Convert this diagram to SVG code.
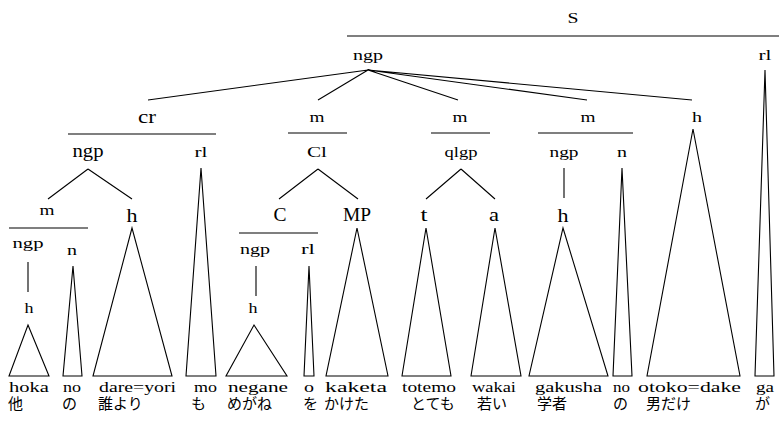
<svg xmlns="http://www.w3.org/2000/svg" width="783" height="423" viewBox="0 0 783 423">
<style>
.l{font-family:"Liberation Serif","Times New Roman",serif;font-size:15px;text-anchor:middle;fill:#000}
.b{font-size:18px}
.w{font-family:"Liberation Serif","Times New Roman",serif;font-size:15px;fill:#000}
.j{font-family:"Noto Sans CJK JP",sans-serif;font-size:15px;fill:#000}
.ln{stroke:#000;stroke-width:1.1;fill:none;stroke-linejoin:miter}
</style>
<rect width="783" height="423" fill="#fff"/>

<!-- branch lines, bars and roofs -->
<g id="connectors" class="ln">
  <path d="M347 36H779M68 134H216M288 133H347M431 133H490M538 133H633M9 228H88M239 233H318"/>
  <path d="M368 70L148 100M368 70L318 100M368 70L458 100M368 70L587 100M368 70L692 100"/>
  <path d="M88 169L48 199M88 169L132 199M318 169L279 199M318 169L358 199M461 169L426 199M461 169L495 199"/>
  <path d="M28 262V292M256 266V296M564 168V198"/>
  <polygon points="765,70 774,376 755,376"/>
  <polygon points="201,168 216,376 186,376"/>
  <polygon points="132,228 172,376 93,376"/>
  <polygon points="73,266 82,376 63,376"/>
  <polygon points="28,325 49,376 9,376"/>
  <polygon points="254,325 287,376 226,376"/>
  <polygon points="309,266 314,376 304,376"/>
  <polygon points="357,228 388,376 326,376"/>
  <polygon points="426,228 451,376 402,376"/>
  <polygon points="495,228 521,376 471,376"/>
  <polygon points="563,228 608,376 529,376"/>
  <polygon points="622,168 632,376 613,376"/>
  <polygon points="693,129 740,376 647,376"/>
</g>

<!-- category labels -->
<g id="n-S"><text class="l" x="573" y="23" textLength="11" lengthAdjust="spacingAndGlyphs">S</text></g>
<g id="n-ngp-top"><text class="l" x="368" y="60" textLength="30" lengthAdjust="spacingAndGlyphs">ngp</text></g>
<g id="n-rl-top"><text class="l" x="765" y="60" textLength="13" lengthAdjust="spacingAndGlyphs">rl</text></g>
<g id="n-cr"><text class="l b" x="147" y="123" textLength="18" lengthAdjust="spacingAndGlyphs">cr</text></g>
<g id="n-ngp-cr"><text class="l b" x="88" y="157" textLength="31" lengthAdjust="spacingAndGlyphs">ngp</text></g>
<g id="n-rl-cr"><text class="l" x="201" y="157" textLength="13" lengthAdjust="spacingAndGlyphs">rl</text></g>
<g id="n-m-1"><text class="l" x="47" y="215" textLength="15" lengthAdjust="spacingAndGlyphs">m</text></g>
<g id="n-h-1"><text class="l b" x="132" y="222" textLength="11" lengthAdjust="spacingAndGlyphs">h</text></g>
<g id="n-ngp-1"><text class="l" x="28" y="248" textLength="31" lengthAdjust="spacingAndGlyphs">ngp</text></g>
<g id="n-n-1"><text class="l" x="72" y="255" textLength="10" lengthAdjust="spacingAndGlyphs">n</text></g>
<g id="n-h-2"><text class="l" x="29" y="313" textLength="9" lengthAdjust="spacingAndGlyphs">h</text></g>
<g id="n-m-2"><text class="l" x="317" y="122" textLength="15" lengthAdjust="spacingAndGlyphs">m</text></g>
<g id="n-Cl"><text class="l" x="317" y="157" textLength="20" lengthAdjust="spacingAndGlyphs">Cl</text></g>
<g id="n-C"><text class="l b" x="280" y="221" textLength="13" lengthAdjust="spacingAndGlyphs">C</text></g>
<g id="n-MP"><text class="l b" x="357" y="221" textLength="28" lengthAdjust="spacingAndGlyphs">MP</text></g>
<g id="n-ngp-2"><text class="l" x="255" y="254" textLength="30" lengthAdjust="spacingAndGlyphs">ngp</text></g>
<g id="n-rl-2"><text class="l" x="308" y="254" textLength="14" lengthAdjust="spacingAndGlyphs">rl</text></g>
<g id="n-h-3"><text class="l" x="253" y="313" textLength="9" lengthAdjust="spacingAndGlyphs">h</text></g>
<g id="n-m-3"><text class="l" x="460" y="122" textLength="15" lengthAdjust="spacingAndGlyphs">m</text></g>
<g id="n-qlgp"><text class="l" x="461" y="157" textLength="33" lengthAdjust="spacingAndGlyphs">qlgp</text></g>
<g id="n-t"><text class="l b" x="424" y="221" textLength="7" lengthAdjust="spacingAndGlyphs">t</text></g>
<g id="n-a"><text class="l b" x="494" y="221" textLength="10" lengthAdjust="spacingAndGlyphs">a</text></g>
<g id="n-m-4"><text class="l" x="588" y="122" textLength="15" lengthAdjust="spacingAndGlyphs">m</text></g>
<g id="n-ngp-3"><text class="l" x="564" y="157" textLength="29" lengthAdjust="spacingAndGlyphs">ngp</text></g>
<g id="n-n-2"><text class="l" x="622" y="157" textLength="10" lengthAdjust="spacingAndGlyphs">n</text></g>
<g id="n-h-4"><text class="l b" x="563" y="222" textLength="11" lengthAdjust="spacingAndGlyphs">h</text></g>
<g id="n-h-5"><text class="l" x="697" y="122" textLength="10" lengthAdjust="spacingAndGlyphs">h</text></g>

<!-- words: romanization and Japanese -->
<g id="words">
  <text class="w" x="9" y="392" textLength="40" lengthAdjust="spacingAndGlyphs">hoka</text>
  <text class="w" x="63" y="392" textLength="18" lengthAdjust="spacingAndGlyphs">no</text>
  <text class="w" x="99" y="392" textLength="77" lengthAdjust="spacingAndGlyphs">dare=yori</text>
  <text class="w" x="194" y="392" textLength="23" lengthAdjust="spacingAndGlyphs">mo</text>
  <text class="w" x="228" y="392" textLength="60" lengthAdjust="spacingAndGlyphs">negane</text>
  <text class="w" x="304" y="392" textLength="10" lengthAdjust="spacingAndGlyphs">o</text>
  <text class="w" x="325" y="392" textLength="62" lengthAdjust="spacingAndGlyphs">kaketa</text>
  <text class="w" x="402" y="392" textLength="54" lengthAdjust="spacingAndGlyphs">totemo</text>
  <text class="w" x="472" y="392" textLength="44" lengthAdjust="spacingAndGlyphs">wakai</text>
  <text class="w" x="535" y="392" textLength="67" lengthAdjust="spacingAndGlyphs">gakusha</text>
  <text class="w" x="613" y="392" textLength="17" lengthAdjust="spacingAndGlyphs">no</text>
  <text class="w" x="638" y="392" textLength="103" lengthAdjust="spacingAndGlyphs">otoko=dake</text>
  <text class="w" x="756" y="392" textLength="18" lengthAdjust="spacingAndGlyphs">ga</text>

  <text class="j" x="8" y="409">他</text>
  <text class="j" x="62" y="409">の</text>
  <text class="j" x="98" y="409">誰より</text>
  <text class="j" x="191" y="409">も</text>
  <text class="j" x="227" y="409">めがね</text>
  <text class="j" x="303" y="409">を</text>
  <text class="j" x="324" y="409">かけた</text>
  <text class="j" x="411" y="409">とても</text>
  <text class="j" x="477" y="409">若い</text>
  <text class="j" x="537" y="409">学者</text>
  <text class="j" x="613" y="409">の</text>
  <text class="j" x="646" y="409">男だけ</text>
  <text class="j" x="755" y="409">が</text>
</g>
</svg>
